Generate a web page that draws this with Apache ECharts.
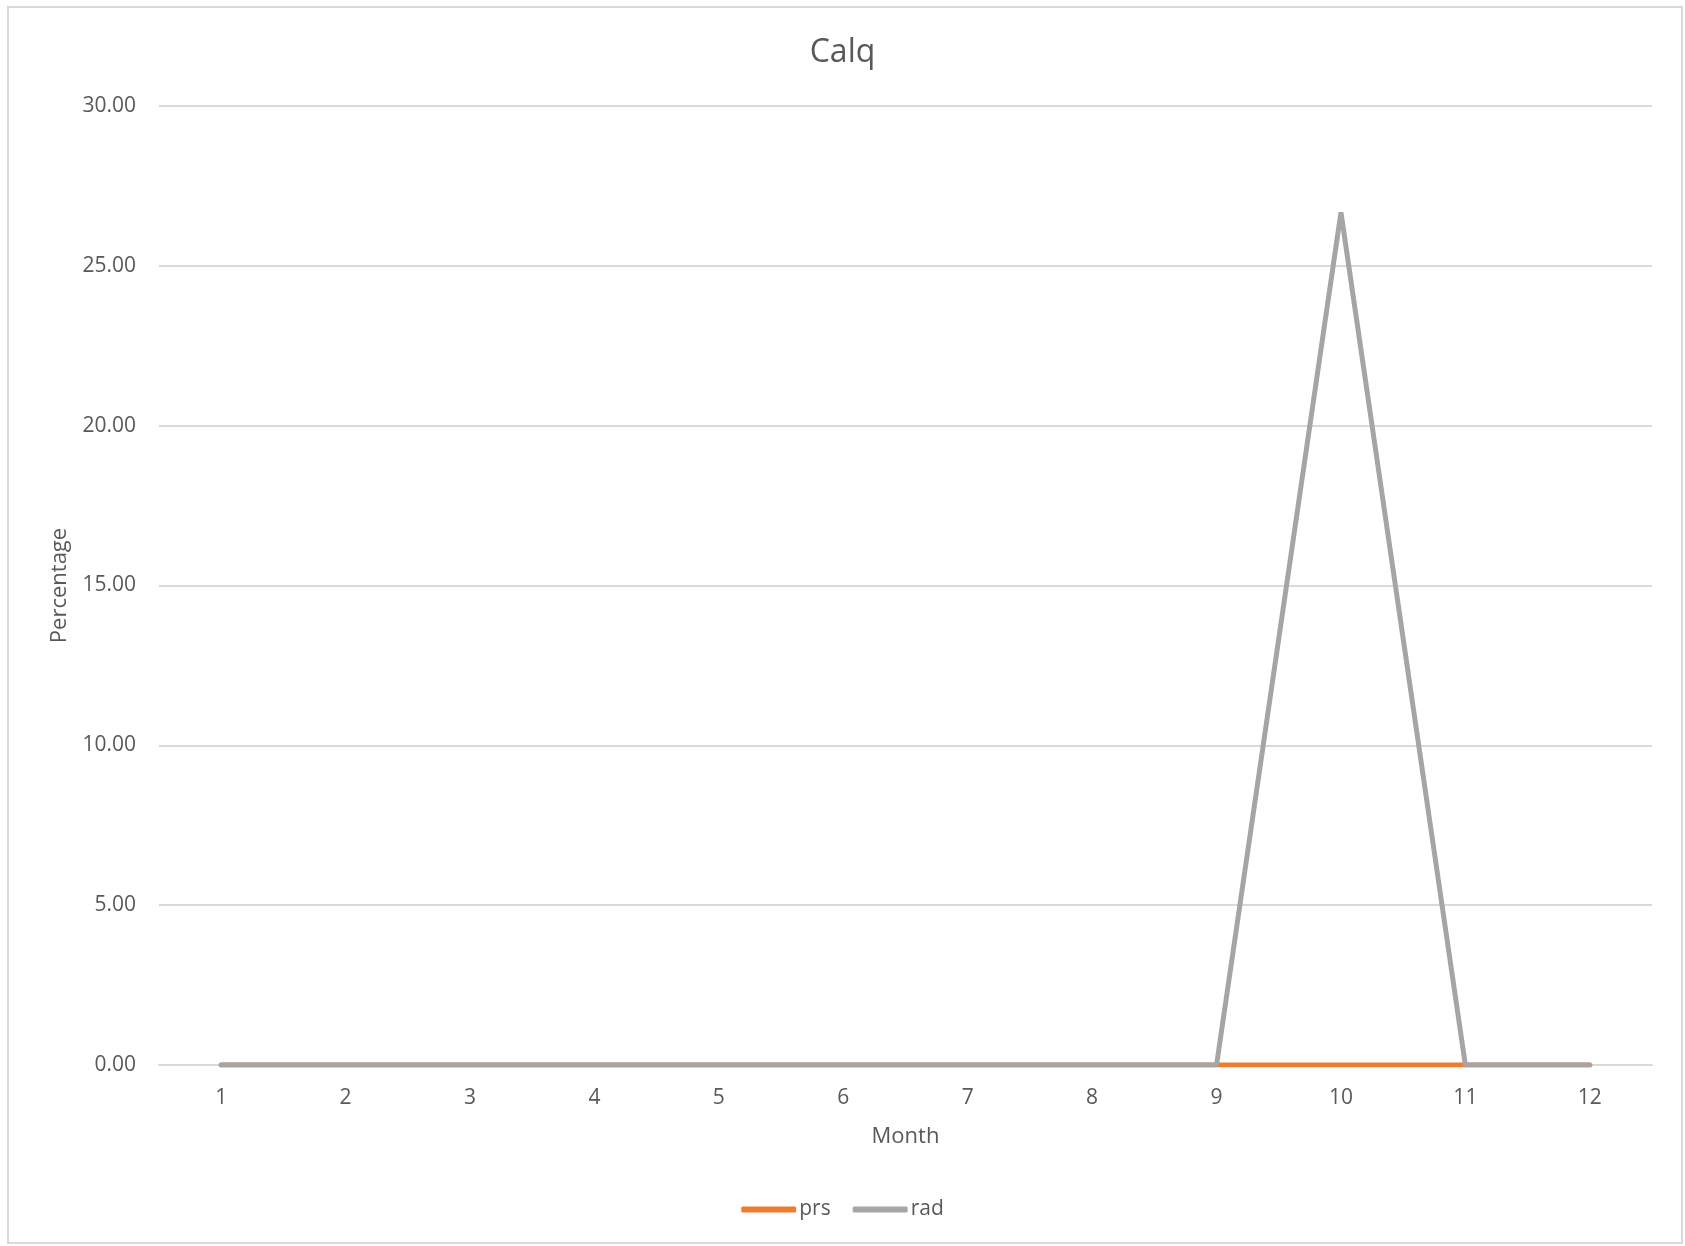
<!DOCTYPE html>
<html>
<head>
<meta charset="utf-8">
<script src="https://cdn.jsdelivr.net/npm/echarts@6/dist/echarts.min.js"></script>
<style>
  html, body { margin: 0; padding: 0; background: #fff; }
  #main { width: 1685px; height: 1246px; }
</style>
</head>
<body>
<div id="main"></div>
<script>
var months = ["1", "2", "3", "4", "5", "6", "7", "8", "9", "10", "11", "12"];
var prs = [0, 0, 0, 0, 0, 0, 0, 0, 0, 0, 0, 0];
var rad = [0, 0, 0, 0, 0, 0, 0, 0, 0, 26.67, 0, 0];

var chart = echarts.init(document.getElementById("main"));
var font = "Open Sans";
var textColor = "#595959";

var option = {
  backgroundColor: "#ffffff",
  color: ["#ED7D31", "#A5A5A5"],
  textStyle: { fontFamily: font },
  title: {
    text: "Calq",
    left: "center",
    top: 32,
    textStyle: { fontFamily: font, fontSize: 32, fontWeight: "normal", color: textColor }
  },
  graphic: [
    {
      type: "rect",
      silent: true,
      shape: { x: 8, y: 7, width: 1674, height: 1236 },
      style: { fill: "none", stroke: "#D9D9D9", lineWidth: 2 }
    }
  ],
  legend: {
    bottom: 21,
    left: "center",
    icon: "roundRect",
    itemWidth: 55,
    itemHeight: 6,
    itemGap: 22,
    textStyle: { fontFamily: font, fontSize: 21, color: textColor, padding: [0, 0, 0, -2] },
    data: ["prs", "rad"]
  },
  grid: { left: 159, right: 33, top: 106, bottom: 181 },
  xAxis: {
    type: "category",
    data: months,
    name: "Month",
    nameLocation: "middle",
    nameGap: 61,
    nameTextStyle: { fontFamily: font, fontSize: 22, color: textColor },
    axisLine: { lineStyle: { color: "#D9D9D9", width: 2 } },
    axisTick: { show: false },
    axisLabel: { fontFamily: font, fontSize: 21, color: textColor, margin: 23 }
  },
  yAxis: {
    type: "value",
    min: 0,
    max: 30,
    interval: 5,
    name: "Percentage",
    nameLocation: "middle",
    nameGap: 88,
    nameTextStyle: { fontFamily: font, fontSize: 22, color: textColor },
    axisLine: { show: false },
    axisTick: { show: false },
    splitLine: { lineStyle: { color: "#D9D9D9", width: 2 } },
    axisLabel: {
      fontFamily: font,
      fontSize: 21,
      color: textColor,
      margin: 23,
      formatter: function (v) { return v.toFixed(2); }
    }
  },
  series: [
    {
      name: "prs",
      type: "line",
      data: prs,
      symbol: "none",
      lineStyle: { width: 5, cap: "round" }
    },
    {
      name: "rad",
      type: "line",
      data: rad,
      symbol: "none",
      lineStyle: { width: 5, cap: "round" }
    }
  ]
};

chart.setOption(option);
</script>
</body>
</html>
